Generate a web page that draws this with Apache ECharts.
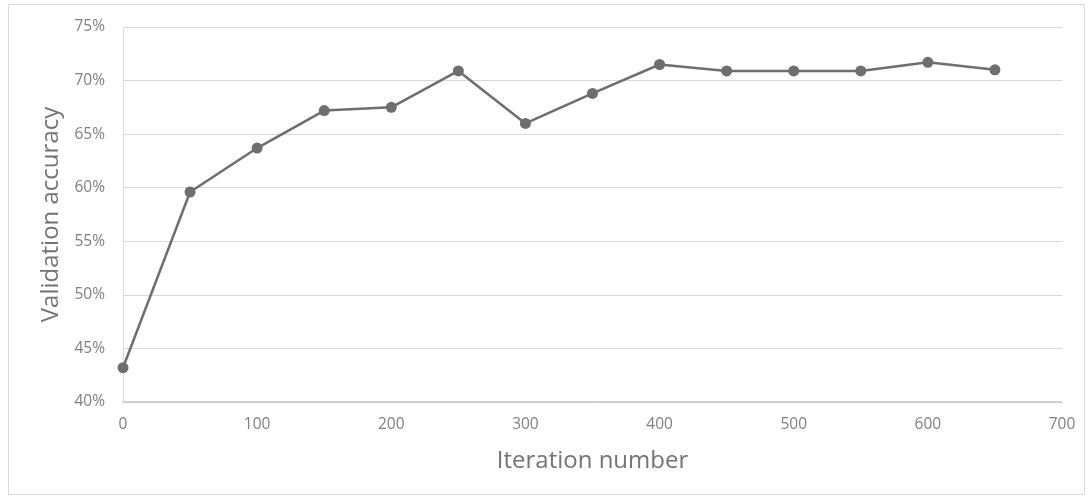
<!DOCTYPE html>
<html>
<head>
<meta charset="utf-8">
<script src="https://cdn.jsdelivr.net/npm/echarts@6/dist/echarts.min.js"></script>
<style>html,body{margin:0;padding:0;background:#fff}#c{width:1092px;height:500px}</style>
</head>
<body>
<div id="c"></div>
<script>
const iterations = [0, 50, 100, 150, 200, 250, 300, 350, 400, 450, 500, 550, 600, 650];
const accuracy = [43.2, 59.6, 63.7, 67.2, 67.5, 70.9, 66.0, 68.8, 71.5, 70.9, 70.9, 70.9, 71.7, 71.0];
const xTitle = 'Iteration number';
const yTitle = 'Validation accuracy';

const chart = echarts.init(document.getElementById('c'), null, {renderer: 'canvas'});
const font = '"Open Sans", "Noto Sans", sans-serif';
chart.setOption({
  animation: false,
  graphic: [{type: 'rect', shape: {x: 8.5, y: 4.5, width: 1076, height: 490}, style: {fill: 'none', stroke: '#d9d9d9', lineWidth: 1}, silent: true}],
  grid: {left: 123, right: 30, top: 27, bottom: 98},
  xAxis: {
    type: 'value', min: 0, max: 700, interval: 100,
    name: xTitle, nameLocation: 'middle', nameGap: 47,
    nameTextStyle: {fontFamily: font, fontSize: 24, color: '#737373'},
    axisLine: {show: true, lineStyle: {color: '#c8c8c8', width: 1.5}},
    axisTick: {show: false},
    splitLine: {show: false},
    axisLabel: {fontFamily: font, fontSize: 15.5, color: '#7f7f7f', margin: 15}
  },
  yAxis: {
    type: 'value', min: 40, max: 75, interval: 5,
    name: yTitle, nameLocation: 'middle', nameGap: 57,
    nameTextStyle: {fontFamily: font, fontSize: 24, color: '#737373'},
    axisLine: {show: true, lineStyle: {color: '#d9d9d9', width: 1}},
    axisTick: {show: false},
    splitLine: {show: true, lineStyle: {color: '#d9d9d9', width: 1}},
    axisLabel: {fontFamily: font, fontSize: 15.5, color: '#7f7f7f', margin: 18, formatter: v => v + '%'}
  },
  series: [{
    type: 'line',
    data: iterations.map((x, i) => [x, accuracy[i]]),
    symbol: 'circle', symbolSize: 11,
    lineStyle: {color: '#6e6e6e', width: 2.5},
    itemStyle: {color: '#6e6e6e'}
  }]
});
</script>
</body>
</html>
